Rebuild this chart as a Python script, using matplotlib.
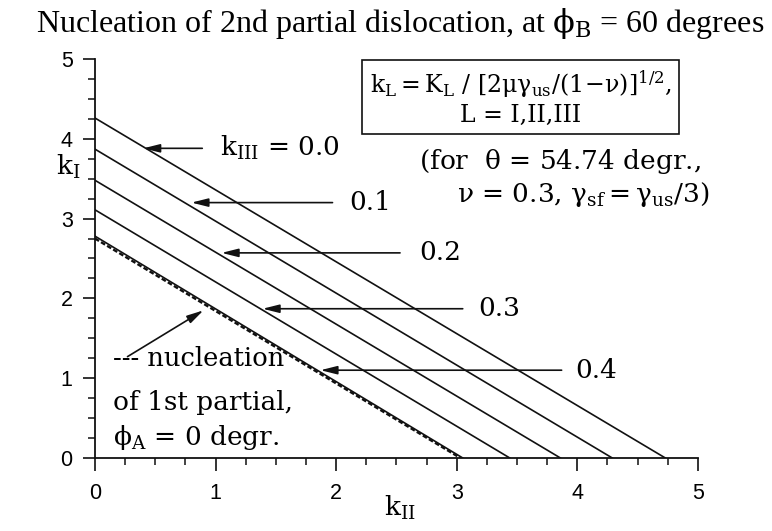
import matplotlib.pyplot as plt
from matplotlib.ticker import MultipleLocator

plt.rcParams['font.family'] = ['DejaVu Serif']
plt.rcParams['mathtext.fontset'] = 'dejavuserif'

# k_III values and the end points of each straight criterion line
k3_values = [0.0, 0.1, 0.2, 0.3, 0.4]
kI_start = [4.26, 3.87, 3.48, 3.11, 2.78]
kII_end = [4.73, 4.29, 3.86, 3.44, 3.05]

# 1st partial nucleation (dashed)
first_kI = 2.75
first_kII = 3.03

# arrow label positions: (tip x, tip y, tail x, text x)
arrow_pos = [
    (0.40, 3.88, 0.89, 1.04),
    (0.80, 3.20, 1.97, 2.11),
    (1.05, 2.57, 2.53, 2.69),
    (1.39, 1.87, 3.05, 3.18),
    (1.87, 1.10, 3.87, 3.98),
]
arrow_text = [r'$\mathrm{k_{III}}$ = 0.0', '0.1', '0.2', '0.3', '0.4']

fig = plt.figure(figsize=(7.72, 5.31), dpi=100)
ax = fig.add_axes([0.123, 0.1375, 0.781, 0.7515])

for k0, k1 in zip(kI_start, kII_end):
    ax.plot([0, k1], [k0, 0], color='#111111', lw=1.2)
ax.plot([0, first_kII], [first_kI, 0], color='#111111', lw=1.7,
        ls=(0, (2.0, 1.0)))

arrow_style = dict(arrowstyle='-|>,head_length=1.0,head_width=0.25',
                   color='#111111', lw=1.2, shrinkA=0, shrinkB=0)
fs = 19
for (tx, ty, sx, lx), lab in zip(arrow_pos, arrow_text):
    ax.annotate('', xy=(tx, ty), xytext=(sx, ty), arrowprops=arrow_style)
    ax.text(lx, ty, lab, fontsize=fs, ha='left', va='center')

ax.annotate('', xy=(0.90, 1.85), xytext=(0.27, 1.27), arrowprops=arrow_style)
ax.text(0.15, 1.25, '--- nucleation', fontsize=18.5, ha='left', va='center')
ax.text(0.15, 0.69, 'of 1st partial,', fontsize=fs, ha='left', va='center')
ax.text(0.15, 0.26, r'$\mathrm{\phi_A}$ = 0 degr.', fontsize=fs,
        ha='left', va='center')

ax.text(3.53, 4.51,
        r'$\mathrm{k_L = K_L\ /\ [2\mu\gamma_{us}/(1\!-\!\nu)]^{1/2}}$,'
        '\n' + 'L = I,II,III',
        fontsize=17, ha='center', va='center', multialignment='center',
        bbox=dict(boxstyle='square,pad=0.3', fc='white', ec='#111111', lw=1.2))
ax.text(2.69, 3.72, r'(for  $\mathrm{\theta}$ = 54.74 degr.,', fontsize=fs,
        ha='left', va='center')
ax.text(3.0, 3.3, r'$\mathrm{\nu}$ = 0.3, $\mathrm{\gamma_{sf} = \gamma_{us}/3}$)',
        fontsize=fs, ha='left', va='center')

fig.text(0.518, 0.955, r'Nucleation of 2nd partial dislocation, at $\mathrm{\phi_B}$ = 60 degrees',
         fontsize=23, ha='center', va='center', family='Liberation Serif')

ax.set_xlim(0, 5)
ax.set_ylim(0, 5)
ax.spines['top'].set_visible(False)
ax.spines['right'].set_visible(False)
for s in ('left', 'bottom'):
    ax.spines[s].set_linewidth(1.3)
    ax.spines[s].set_color('#111111')
ax.xaxis.set_major_locator(MultipleLocator(1))
ax.yaxis.set_major_locator(MultipleLocator(1))
ax.xaxis.set_minor_locator(MultipleLocator(0.25))
ax.yaxis.set_minor_locator(MultipleLocator(0.25))
ax.tick_params(which='major', length=9, width=1.2, color='#111111')
ax.tick_params(which='minor', length=5, width=1.1, color='#111111')
ax.tick_params(axis='y', which='major', pad=7)
ax.tick_params(axis='x', which='major', pad=9)
for lab in ax.get_xticklabels() + ax.get_yticklabels():
    lab.set_family('Liberation Sans')
    lab.set_fontsize(15.5)

ax.set_xlabel(r'$\mathrm{k_{II}}$', fontsize=19, va='center')
ax.xaxis.set_label_coords(0.505, -0.125)
ax.set_ylabel(r'$\mathrm{k_I}$', fontsize=19, rotation=0, va='center', ha='center')
ax.yaxis.set_label_coords(-0.045, 0.73)

fig.savefig('out.png', dpi=100)
